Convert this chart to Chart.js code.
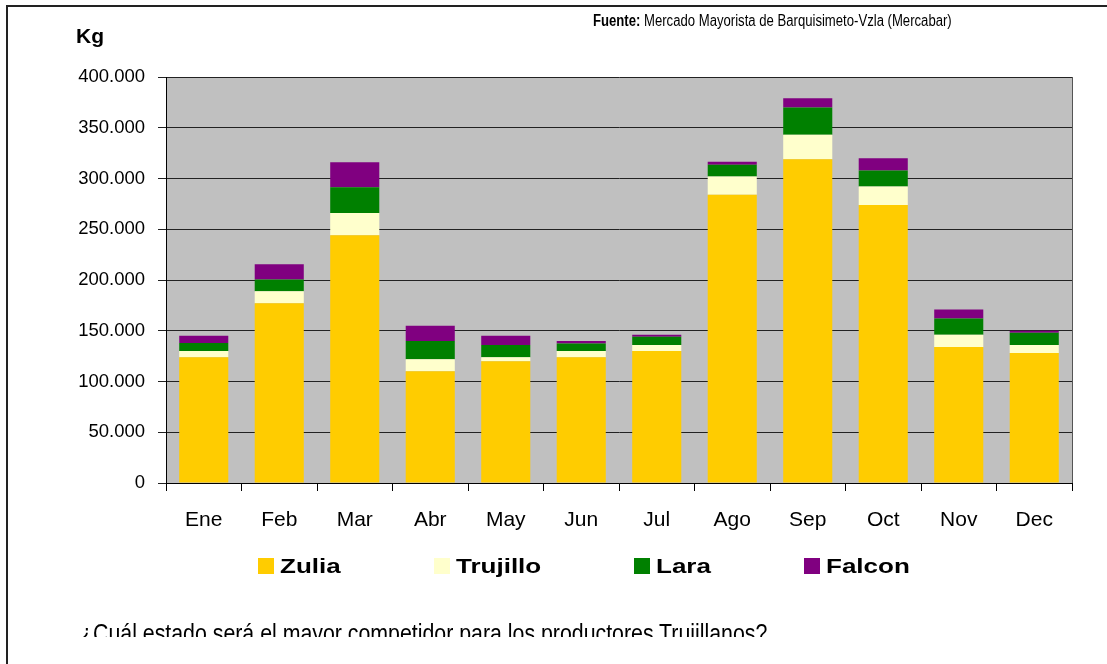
<!DOCTYPE html>
<html>
<head>
<meta charset="utf-8">
<script src="https://cdn.jsdelivr.net/npm/chart.js@4.4.1/dist/chart.umd.min.js"></script>
<style>
  body { margin: 0; background: #fff; width: 1107px; height: 664px; overflow: hidden; position: relative;
         font-family: 'Liberation Sans', Arial, sans-serif; color: #000; }
  canvas { position: absolute; left: 0; top: 0; }
  #marco { position: absolute; left: 6px; top: 5px; width: 1200px; height: 800px;
           border-left: 2px solid #222; border-top: 2px solid #222; pointer-events: none; }
  #kg { position: absolute; left: 76px; top: 24px; font-weight: bold; font-size: 21px; }
  #fuente { position: absolute; left: 593px; top: 12px; font-size: 16px; white-space: nowrap;
            transform: scaleX(0.82); transform-origin: left top; }
  #pregunta { position: absolute; left: 80px; top: 618px; height: 19px; overflow: hidden; white-space: nowrap;
              font-size: 26px; transform: scaleX(0.82); transform-origin: left top; }
  #leyenda { position: absolute; left: 258px; top: 556px; display: flex; gap: 93px;
             font-weight: bold; font-size: 20px; line-height: 20px; }
  #leyenda .item { display: flex; align-items: center; }
  #leyenda .caja { display: inline-block; width: 16px; height: 16px; margin-right: 6px; }
  #leyenda .texto { display: inline-block; white-space: nowrap; transform-origin: left center; }
</style>
</head>
<body>
<canvas id="grafico" width="1107" height="664"></canvas>
<div id="kg">Kg</div>
<div id="fuente"><b>Fuente:</b> Mercado Mayorista de Barquisimeto-Vzla (Mercabar)</div>
<div id="leyenda"></div>
<div id="pregunta">¿Cuál estado será el mayor competidor para los productores Trujillanos?</div>
<div id="marco"></div>
<script>
// kilos recibidos por mes y estado de origen
const meses = ['Ene', 'Feb', 'Mar', 'Abr', 'May', 'Jun', 'Jul', 'Ago', 'Sep', 'Oct', 'Nov', 'Dec'];
const zulia    = [124000, 177000, 244000, 110000, 120000, 124000, 130000, 284000, 319000, 274000, 134000, 128000];
const trujillo = [  6000,  12000,  22000,  12000,   4000,   6000,   6000,  18000,  24000,  18000,  12000,   8000];
const lara     = [  8000,  11500,  25500,  18000,  12000,   7500,   8000,  11500,  27000,  16000,  16000,  12000];
const falcon   = [  7000,  15000,  24500,  15000,   9000,   2500,   2000,   3000,   9000,  12000,   9000,   2000];
const marcasY  = [0, 50000, 100000, 150000, 200000, 250000, 300000, 350000, 400000];

const estiramiento = 1.3; // texto de la leyenda mas ancho

function miles(v) {
  return String(v).replace(/\B(?=(\d{3})+(?!\d))/g, '.');
}

// fondo gris del area de trazado y borde derecho
const fondoGris = {
  id: 'fondoGris',
  beforeDraw(chart) {
    const { ctx, chartArea: a } = chart;
    ctx.save();
    ctx.fillStyle = '#c0c0c0';
    ctx.fillRect(a.left, a.top, a.right - a.left, a.bottom - a.top);
    ctx.restore();
  },
  afterDraw(chart) {
    const { ctx, chartArea: a } = chart;
    ctx.save();
    ctx.strokeStyle = '#555';
    ctx.lineWidth = 1;
    ctx.beginPath();
    ctx.moveTo(Math.round(a.right) + 0.5, a.top);
    ctx.lineTo(Math.round(a.right) + 0.5, a.bottom);
    ctx.stroke();
    ctx.restore();
  }
};

// leyenda en html armada con los datasets
const leyendaHtml = {
  id: 'leyendaHtml',
  afterUpdate(chart) {
    const cont = document.getElementById('leyenda');
    cont.innerHTML = '';
    chart.options.plugins.legend.labels.generateLabels(chart).forEach(item => {
      const li = document.createElement('div');
      li.className = 'item';
      const caja = document.createElement('span');
      caja.className = 'caja';
      caja.style.background = item.fillStyle;
      const txt = document.createElement('span');
      txt.className = 'texto';
      txt.textContent = item.text;
      li.append(caja, txt);
      cont.appendChild(li);
      const w = txt.getBoundingClientRect().width;
      txt.style.width = (w * estiramiento) + 'px';
      txt.style.transform = 'scaleX(' + estiramiento + ')';
    });
  }
};

Chart.defaults.font.family = "'Liberation Sans', Arial, sans-serif";
Chart.defaults.color = '#000';

new Chart(document.getElementById('grafico'), {
  type: 'bar',
  data: {
    labels: meses,
    datasets: [
      { label: 'Zulia', data: zulia, backgroundColor: '#ffcc00' },
      { label: 'Trujillo', data: trujillo, backgroundColor: '#ffffcc' },
      { label: 'Lara', data: lara, backgroundColor: '#008000' },
      { label: 'Falcon', data: falcon, backgroundColor: '#800080' }
    ]
  },
  options: {
    responsive: false,
    animation: false,
    layout: { padding: { left: 0, top: 77, right: 35, bottom: 121 } },
    datasets: { bar: { barPercentage: 0.65, categoryPercentage: 1.0, borderWidth: 0 } },
    plugins: {
      legend: { display: false },
      tooltip: { enabled: false }
    },
    scales: {
      x: {
        stacked: true,
        grid: { drawOnChartArea: false, drawTicks: true, tickLength: 8, color: '#000', offset: true },
        border: { display: true, color: '#000', width: 1 },
        ticks: { font: { size: 21 }, padding: 17, maxRotation: 0 },
        afterFit(scale) { scale.height = 60; }
      },
      y: {
        stacked: true,
        min: 0,
        max: 400000,
        afterBuildTicks(scale) { scale.ticks = marcasY.map(v => ({ value: v })); },
        grid: { color: '#222', lineWidth: 1, tickLength: 8 },
        border: { display: true, color: '#000', width: 1 },
        ticks: { font: { size: 18.5 }, padding: 13, callback: v => miles(v) },
        afterFit(scale) { scale.width = 166; }
      }
    }
  },
  plugins: [fondoGris, leyendaHtml]
});
</script>
</body>
</html>
